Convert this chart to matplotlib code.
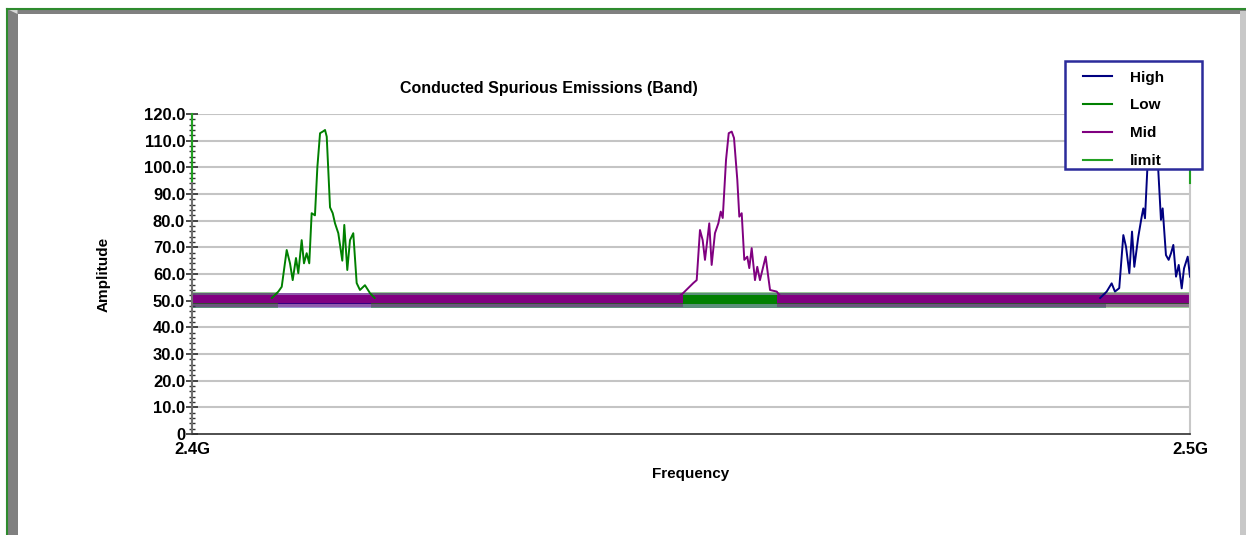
import numpy as np
import matplotlib
matplotlib.use("Agg")
import matplotlib.pyplot as plt
from matplotlib.patches import Rectangle, Polygon
from matplotlib.lines import Line2D

plt.rcParams['font.family'] = ['Liberation Sans', 'DejaVu Sans']

# ---------------- data (frequency in MHz above 2400) ----------------
series_names = ["High", "Low", "Mid", "limit"]
series_colors = ["#000080", "#008000", "#800080", "#22a022"]

# noise floor: dense core and sparse fringe (min / max) for each series
core_lo = {"High": 48.8, "Low": 48.7, "Mid": 49.0}
core_hi = {"High": 52.0, "Low": 52.2, "Mid": 52.2}
fringe_lo = {"High": 47.4, "Low": 47.2, "Mid": 47.8}
fringe_hi = {"High": 53.0, "Low": 53.4, "Mid": 53.0}
floor_spans = {
    "High": [(0.0, 91.6)],
    "Low": [(0.0, 8.6), (17.9, 100.0)],
    "Mid": [(0.0, 49.2), (58.6, 100.0)],
}

low_f = [8.0, 8.65, 8.99, 9.49, 9.82, 10.09, 10.42, 10.65, 10.99, 11.22, 11.49,
         11.75, 11.99, 12.32, 12.56, 12.83, 13.10, 13.33, 13.50, 13.83, 14.10,
         14.33, 14.66, 15.06, 15.26, 15.56, 15.83, 16.16, 16.50, 16.83, 17.33,
         17.84, 18.3]
low_v = [51.0, 53.4, 55.2, 69.0, 64.0, 57.7, 66.0, 60.3, 72.7, 64.0, 67.8,
         64.0, 82.8, 82.0, 100.0, 112.8, 113.4, 114.0, 111.5, 85.0, 82.8,
         79.0, 75.3, 65.0, 78.4, 61.5, 72.7, 75.3, 56.6, 54.0, 55.8,
         52.8, 51.0]

mid_f = [48.6, 49.20, 50.23, 50.57, 50.90, 51.17, 51.40, 51.83, 52.07, 52.40,
         52.74, 52.98, 53.18, 53.51, 53.78, 54.08, 54.31, 54.64, 54.84, 55.08,
         55.34, 55.64, 55.84, 56.08, 56.41, 56.64, 56.91, 57.48, 57.74, 57.92,
         58.59, 59.1]
mid_v = [51.0, 52.8, 56.6, 57.7, 76.5, 72.7, 65.3, 79.0, 63.4, 75.3,
         79.0, 83.4, 81.0, 102.8, 112.8, 113.4, 111.0, 95.3, 81.5, 82.8,
         65.3, 66.5, 62.2, 69.7, 57.7, 62.7, 57.7, 66.5, 59.0, 54.0,
         53.4, 51.0]

high_f = [91.0, 91.65, 92.15, 92.48, 92.91, 93.32, 93.59, 93.92, 94.19, 94.42,
          94.82, 95.16, 95.32, 95.49, 95.72, 95.99, 96.29, 96.59, 96.82, 97.09,
          97.26, 97.59, 97.86, 98.10, 98.33, 98.60, 98.87, 99.17, 99.40, 99.77,
          100.0]
high_v = [51.0, 53.4, 56.5, 53.4, 54.7, 74.6, 70.2, 60.3, 75.9, 62.7,
          74.0, 81.5, 84.6, 80.9, 99.0, 112.0, 113.5, 112.0, 99.0, 80.3,
          84.6, 67.1, 65.3, 67.8, 70.9, 59.0, 63.4, 54.6, 62.1, 66.5,
          59.0]

limit_f = [0.0, 0.0, np.nan, 100.0, 100.0]
limit_v = [120.0, 95.0, np.nan, 99.0, 94.0]

y_ticks = [0, 10, 20, 30, 40, 50, 60, 70, 80, 90, 100, 110, 120]
y_ticklabels = ["0", "10.0", "20.0", "30.0", "40.0", "50.0", "60.0", "70.0",
                "80.0", "90.0", "100.0", "110.0", "120.0"]
x_ticks = [0.0, 100.0]
x_ticklabels = ["2.4G", "2.5G"]

# ---------------- figure ----------------
W, H = 1246, 535
fig = plt.figure(figsize=(W / 100, H / 100), dpi=100)
fig.patch.set_facecolor("white")

def fx(px):
    return px / W

def fy(py):
    return 1 - py / H

# frame: green outline, dark bevel top/left, light bevel right
fig.patches.append(Rectangle((fx(7), 0), fx(10.5), fy(9), transform=fig.transFigure,
                             facecolor="#808080", edgecolor="none", zorder=0))
fig.patches.append(Rectangle((fx(7), fy(14)), 1 - fx(7), fy(9) - fy(14),
                             transform=fig.transFigure, facecolor="#808080",
                             edgecolor="none", zorder=0))
fig.patches.append(Polygon([(fx(7), fy(9)), (fx(17.5), fy(14)), (fx(17.5), fy(9))],
                           closed=True, transform=fig.transFigure,
                           facecolor="#d8d8d8", edgecolor="none", zorder=0))
fig.patches.append(Rectangle((fx(1239.5), 0), 1 - fx(1239.5), fy(10.5),
                             transform=fig.transFigure, facecolor="#c8c8c8",
                             edgecolor="none", zorder=0))
fig.lines.append(Line2D([fx(6.5), 1.0], [fy(8.5), fy(8.5)], transform=fig.transFigure,
                        color="#2e8b2e", lw=1.5))
fig.lines.append(Line2D([fx(6.5), fx(6.5)], [0, fy(8.5)], transform=fig.transFigure,
                        color="#2e8b2e", lw=1.5))

ax = fig.add_axes([fx(192), fy(434), fx(1190) - fx(192), fy(114) - fy(434)])
ax.set_facecolor("white")
ax.set_zorder(1)

# grid lines
for yv in y_ticks[1:]:
    ax.axhline(yv, color="#c4c4c4", lw=1.5, zorder=1)

# floor bands then peaks, series order High, Low, Mid
peaks = {"High": (high_f, high_v), "Low": (low_f, low_v), "Mid": (mid_f, mid_v)}
for name, col in zip(series_names[:3], series_colors[:3]):
    for a, b in floor_spans[name]:
        ax.fill_between([a, b], [fringe_lo[name]] * 2, [fringe_hi[name]] * 2,
                        color=col, alpha=0.4, lw=0, zorder=2)
        ax.fill_between([a, b], [core_lo[name]] * 2, [core_hi[name]] * 2,
                        color=col, lw=0, zorder=2)
    pf, pv = peaks[name]
    ax.plot(pf, pv, color=col, lw=1.4, zorder=3, label=name)

ax.plot(limit_f, limit_v, color=series_colors[3], lw=1.5, zorder=4, label="limit",
        clip_on=False)

ax.set_xlim(0, 100)
ax.set_ylim(0, 120)
ax.set_yticks(y_ticks)
ax.set_yticklabels(y_ticklabels)
ax.set_yticks(np.arange(0, 121, 2), minor=True)
ax.set_xticks(x_ticks)
ax.set_xticklabels(x_ticklabels)

ax.spines["top"].set_visible(False)
ax.spines["right"].set_color("#c8c8c8")
ax.spines["right"].set_linewidth(1.5)
ax.spines["left"].set_color("#707070")
ax.spines["left"].set_linewidth(1.5)
ax.spines["bottom"].set_color("#303030")
ax.spines["bottom"].set_linewidth(1.2)

ax.tick_params(axis="y", which="major", direction="inout", length=8, width=1.2,
               color="#303030", pad=1, labelsize=12)
ax.tick_params(axis="y", which="minor", direction="inout", length=5, width=1.0,
               color="#303030")
ax.tick_params(axis="x", which="major", length=0, pad=6, labelsize=12)
for lab in ax.get_yticklabels() + ax.get_xticklabels():
    lab.set_fontweight("bold")

ax.set_xlabel("Frequency", fontsize=11, fontweight="bold", labelpad=7)
ax.set_ylabel("Amplitude", fontsize=11, fontweight="bold", labelpad=24)

fig.text(fx(549), fy(88), "Conducted Spurious Emissions (Band)", ha="center",
         va="center", fontsize=11.5, fontweight="bold")

# legend box and entries
box = Rectangle((fx(1065), fy(169)), fx(1202) - fx(1065), fy(61) - fy(169),
                transform=fig.transFigure, facecolor="white", edgecolor="#2b2b9b",
                lw=1.8, zorder=5)
fig.patches.append(box)
handles = [Line2D([], [], color=c, lw=1.5) for c in series_colors]
leg = fig.legend(handles, series_names, loc="upper left",
                 bbox_to_anchor=(fx(1075), fy(63)), bbox_transform=fig.transFigure,
                 frameon=False, borderaxespad=0,
                 prop={"weight": "bold", "size": 11}, handlelength=1.9,
                 handletextpad=1.18, labelspacing=0.9, borderpad=0.5)
leg.set_zorder(6)

fig.savefig("out.png", dpi=100, facecolor="white")
